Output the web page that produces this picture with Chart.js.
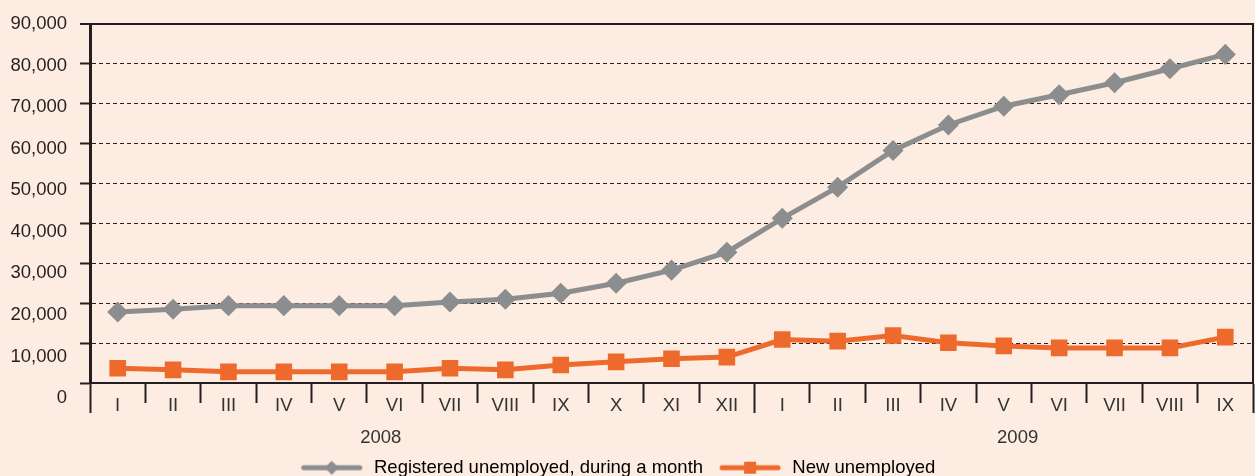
<!DOCTYPE html>
<html><head><meta charset="utf-8">
<script src="https://cdn.jsdelivr.net/npm/chart.js@4/dist/chart.umd.min.js"></script>
<style>
html,body{margin:0;padding:0;background:#fdece1;}
#wrap{width:1255px;height:476px;position:relative;}
</style></head>
<body><div id="wrap"><canvas id="c" width="1255" height="476"></canvas></div>
<script>
const months = ['I','II','III','IV','V','VI','VII','VIII','IX','X','XI','XII','I','II','III','IV','V','VI','VII','VIII','IX'];
const years = ['2008','2009'];
const registered = [17800,18500,19400,19400,19400,19400,20300,21000,22500,25000,28300,32800,41300,49100,58300,64700,69400,72300,75300,78800,82400];
const newUnemployed = [3700,3300,2800,2800,2800,2800,3700,3300,4500,5300,6100,6500,10900,10500,11900,10100,9300,8800,8800,8800,11500];
const seriesNames = ['Registered unemployed, during a month','New unemployed'];
const yTicks = [0,10000,20000,30000,40000,50000,60000,70000,80000,90000];

const GRAY = '#8b8d8f', ORANGE = '#ee6a2c', INK = '#231f20', TXT = '#333333';
const FONT = "'Liberation Sans', Arial, sans-serif";
const FS = 18.5;

// year axis: half-month slots so the year text sits where the reference puts it
const yearSlots = [];
for (let i = 0; i < months.length * 2; i++) yearSlots.push('');
yearSlots[10] = years[0];
yearSlots[33] = years[1];
const yearBoundary = months.indexOf('I', 1);

// legend swatch: line with the series marker, with a small blank lead-in on the left
function legendIcon(color, style) {
  const m = 7;
  const cv = document.createElement('canvas');
  cv.width = 64 + m; cv.height = 16;
  const g = cv.getContext('2d');
  g.strokeStyle = color; g.lineWidth = 5; g.lineCap = 'round';
  g.beginPath(); g.moveTo(m + 3, 8); g.lineTo(m + 59, 8); g.stroke();
  g.fillStyle = color;
  const c = m + 31;
  if (style === 'rectRot') {
    g.beginPath(); g.moveTo(c, 1); g.lineTo(c + 7, 8); g.lineTo(c, 15); g.lineTo(c - 7, 8); g.closePath(); g.fill();
  } else {
    g.fillRect(c - 6, 2, 12, 12);
  }
  return cv;
}

// the reference's y labels drift slightly below their gridlines toward the bottom
const yLabelDrift = {
  id: 'yLabelDrift',
  beforeDraw(chart) {
    const s = chart.scales.y;
    const items = s.getLabelItems();
    const n = items.length - 1;
    items.forEach((it, i) => { it.options.translation[1] += 15 * (n - i) / n; });
  }
};

const noSidePad = (s) => { s.paddingLeft = 0; s.paddingRight = 0; };

new Chart(document.getElementById('c'), {
  type: 'line',
  data: {
    labels: months,
    datasets: [
      { label: seriesNames[0], data: registered, borderColor: GRAY, backgroundColor: GRAY,
        borderWidth: 5, pointStyle: 'rectRot', pointRadius: 7, pointHoverRadius: 7, tension: 0 },
      { label: seriesNames[1], data: newUnemployed, borderColor: ORANGE, backgroundColor: ORANGE,
        borderWidth: 5, pointStyle: 'rect', pointRadius: 8.2, pointHoverRadius: 8.2, tension: 0 }
    ]
  },
  plugins: [yLabelDrift],
  options: {
    responsive: false, animation: false,
    layout: { autoPadding: false, padding: { left: -24, right: 2, top: 23, bottom: -11 } },
    plugins: {
      tooltip: { enabled: false },
      legend: {
        position: 'bottom',
        labels: {
          color: INK, font: { family: FONT, size: FS }, padding: 9, boxHeight: 16,
          usePointStyle: true, pointStyleWidth: 71,
          generateLabels: (chart) => chart.data.datasets.map((ds, i) => ({
            text: ds.label, fillStyle: ds.borderColor, strokeStyle: ds.borderColor, lineWidth: 0,
            pointStyle: legendIcon(ds.borderColor, ds.pointStyle), datasetIndex: i, hidden: false
          }))
        }
      }
    },
    scales: {
      x: {
        type: 'category', position: 'bottom', offset: true,
        grid: {
          offset: true, drawOnChartArea: false, tickLength: 30,
          tickColor: INK, tickWidth: 2,
          tickBorderDash: (ctx) => (ctx.index === 0 || ctx.index === yearBoundary || ctx.index === undefined) ? [] : [19, 60]
        },
        border: { display: true, color: INK, width: 2 },
        ticks: { color: TXT, font: { family: FONT, size: FS }, padding: -18, autoSkip: false, maxRotation: 0 },
        afterFit: (s) => { s.height = 36; noSidePad(s); }
      },
      xYear: {
        type: 'category', position: 'bottom', offset: true, labels: yearSlots,
        grid: { display: false, drawTicks: false }, border: { display: false },
        ticks: { color: TXT, font: { family: FONT, size: FS }, padding: 8, autoSkip: false, maxRotation: 0 },
        afterFit: (s) => { s.height = 30.5; noSidePad(s); }
      },
      y: {
        min: 0, max: 90000,
        afterBuildTicks: (s) => { s.ticks = yTicks.map(v => ({ value: v })); },
        grid: { color: INK, lineWidth: (ctx) => (ctx.tick && ctx.tick.value === 90000 ? 2 : 1), tickLength: 10, tickColor: INK, tickWidth: 2, tickBorderDash: [] },
        border: { display: true, color: INK, width: 3, dash: (ctx) => (ctx.tick && (ctx.tick.value === 90000 || ctx.tick.value === 0) ? [] : [4, 3]) },
        ticks: { color: INK, font: { family: FONT, size: FS }, padding: 13,
          callback: (v) => v.toLocaleString('en-US') },
        afterFit: (s) => { s.width = 114; }
      },
      yRight: {
        position: 'right', min: 0, max: 90000,
        grid: { display: false, drawTicks: false },
        border: { display: true, color: INK, width: 2 },
        ticks: { display: false },
        afterFit: (s) => { s.width = 0; }
      }
    }
  }
});
</script></body></html>
